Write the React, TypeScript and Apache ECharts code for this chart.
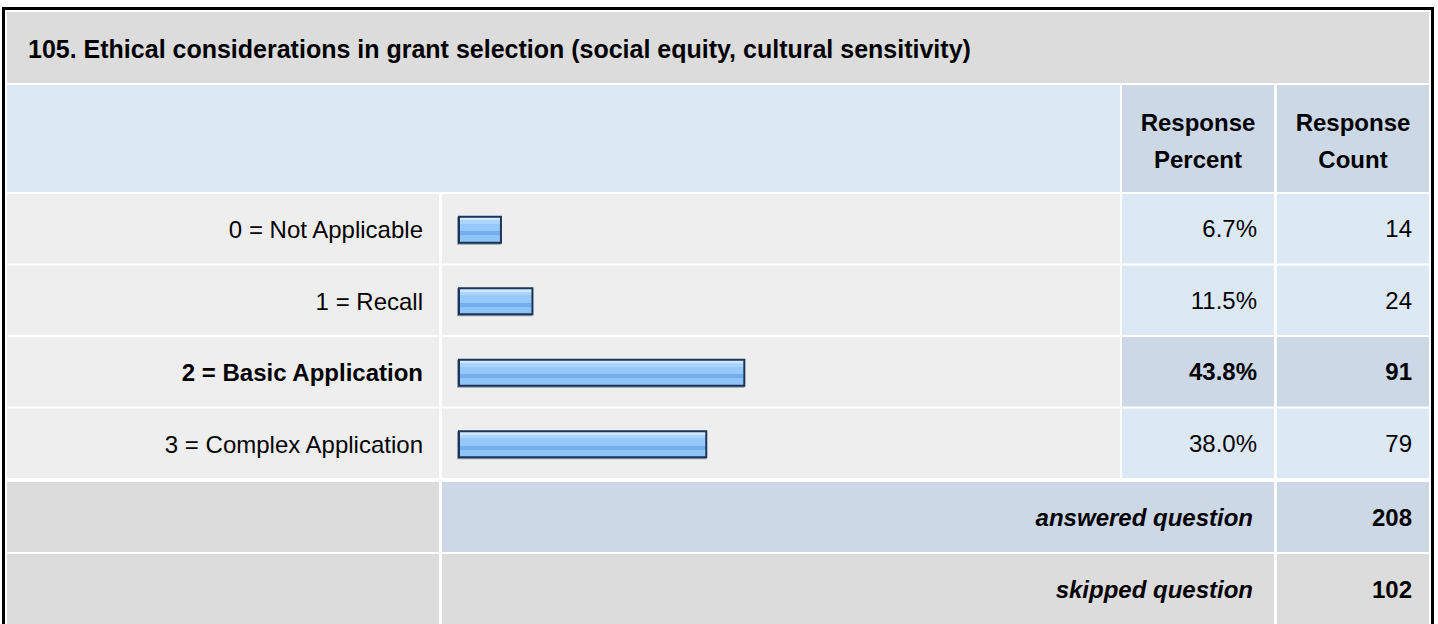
import React, { useEffect, useRef } from 'react';
import * as echarts from 'echarts';

// ---- data ----
const title = '105. Ethical considerations in grant selection (social equity, cultural sensitivity)';
const categories = ['0 = Not Applicable', '1 = Recall', '2 = Basic Application', '3 = Complex Application'];
const percents = [6.7, 11.5, 43.8, 38.0];
const counts = [14, 24, 91, 79];
const headerPercent = ['Response', 'Percent'];
const headerCount = ['Response', 'Count'];
const answeredLabel = 'answered question';
const skippedLabel = 'skipped question';
const answeredCount = 208;
const skippedCount = 102;

// ---- layout / style ----
const FAM = '"Liberation Sans", Arial, Helvetica, sans-serif';
const FS = 24;
const GREY = '#dcdcdc';
const LIGHT = '#eeeeee';
const BLUE = '#dde8f5';
const BLUE2 = '#ccd8e5';

const COL_LAB: [number, number] = [7, 439];
const COL_BAR: [number, number] = [442, 1120];
const COL_PCT: [number, number] = [1122, 1274];
const COL_CNT: [number, number] = [1277, 1429];
const TITLE_ROW: [number, number] = [12, 83];
const HEADER_ROW: [number, number] = [85, 192];
const ROW_TOP0 = 194;
const ROW_PITCH = 71.5;
const ROW_H = 69.5;
const ANS_ROW: [number, number] = [482, 552];
const SKIP_ROW: [number, number] = [554, 660];
const PAD = 17;

function rect(x1: number, y1: number, x2: number, y2: number, fill: string) {
  return { type: 'rect', silent: true, z: 0, shape: { x: x1, y: y1, width: x2 - x1, height: y2 - y1 }, style: { fill } };
}

function txt(text: string, x: number, y: number, align: string, font: string) {
  return {
    type: 'text', silent: true, z: 50,
    style: { text, x, y, font, fill: '#000', align, verticalAlign: 'middle', textAlign: align, textVerticalAlign: 'middle' },
  };
}

export default function App() {
  const ref = useRef<HTMLDivElement>(null);
  useEffect(() => {
    const chart = echarts.init(ref.current!, null, { renderer: 'svg' });
    const hi = percents.indexOf(Math.max(...percents));
    const regular = `${FS}px ${FAM}`;
    const bold = `bold ${FS}px ${FAM}`;
    const boldItalic = `italic bold ${FS}px ${FAM}`;

    const g: any[] = [];
    // title
    g.push(rect(COL_LAB[0], TITLE_ROW[0], COL_CNT[1], TITLE_ROW[1], GREY));
    g.push(txt(title, 28, (TITLE_ROW[0] + TITLE_ROW[1]) / 2 + 1, 'left', `bold 25px ${FAM}`));
    // header
    g.push(rect(COL_LAB[0], HEADER_ROW[0], COL_BAR[1], HEADER_ROW[1], BLUE));
    g.push(rect(COL_PCT[0], HEADER_ROW[0], COL_PCT[1], HEADER_ROW[1], BLUE2));
    g.push(rect(COL_CNT[0], HEADER_ROW[0], COL_CNT[1], HEADER_ROW[1], BLUE2));
    const pc = (COL_PCT[0] + COL_PCT[1]) / 2;
    const cc = (COL_CNT[0] + COL_CNT[1]) / 2;
    g.push(txt(headerPercent[0], pc, 122.5, 'center', bold));
    g.push(txt(headerPercent[1], pc, 159.5, 'center', bold));
    g.push(txt(headerCount[0], cc, 122.5, 'center', bold));
    g.push(txt(headerCount[1], cc, 159.5, 'center', bold));
    // rows
    categories.forEach((_, i) => {
      const t = ROW_TOP0 + i * ROW_PITCH;
      const b = t + ROW_H;
      const mid = t + ROW_H / 2;
      const isHi = i === hi;
      g.push(rect(COL_LAB[0], t, COL_LAB[1], b, LIGHT));
      g.push(rect(COL_BAR[0], t, COL_BAR[1], b, LIGHT));
      g.push(rect(COL_PCT[0], t, COL_PCT[1], b, isHi ? BLUE2 : BLUE));
      g.push(rect(COL_CNT[0], t, COL_CNT[1], b, isHi ? BLUE2 : BLUE));
      g.push(txt(percents[i].toFixed(1) + '%', COL_PCT[1] - PAD, mid, 'right', isHi ? bold : regular));
      g.push(txt(String(counts[i]), COL_CNT[1] - PAD, mid, 'right', isHi ? bold : regular));
    });
    // answered
    g.push(rect(COL_LAB[0], ANS_ROW[0], COL_LAB[1], ANS_ROW[1], GREY));
    g.push(rect(COL_BAR[0], ANS_ROW[0], COL_PCT[1], ANS_ROW[1], BLUE2));
    g.push(rect(COL_CNT[0], ANS_ROW[0], COL_CNT[1], ANS_ROW[1], BLUE2));
    const am = (ANS_ROW[0] + ANS_ROW[1]) / 2;
    g.push(txt(answeredLabel, COL_PCT[1] - 21, am, 'right', boldItalic));
    g.push(txt(String(answeredCount), COL_CNT[1] - PAD, am, 'right', bold));
    // skipped
    g.push(rect(COL_LAB[0], SKIP_ROW[0], COL_LAB[1], SKIP_ROW[1], GREY));
    g.push(rect(COL_BAR[0], SKIP_ROW[0], COL_PCT[1], SKIP_ROW[1], GREY));
    g.push(rect(COL_CNT[0], SKIP_ROW[0], COL_CNT[1], SKIP_ROW[1], GREY));
    const sm = 589;
    g.push(txt(skippedLabel, COL_PCT[1] - 21, sm, 'right', boldItalic));
    g.push(txt(String(skippedCount), COL_CNT[1] - PAD, sm, 'right', bold));
    // outer border
    g.push({ type: 'rect', silent: true, z: 60, shape: { x: 3.5, y: 8.5, width: 1429, height: 700 }, style: { fill: 'none', stroke: '#000', lineWidth: 3 } });

    const barGrad = new echarts.graphic.LinearGradient(0, 0, 0, 1, [
      { offset: 0, color: '#cfe7ff' },
      { offset: 0.13, color: '#cfe7ff' },
      { offset: 0.13, color: '#acd5fd' },
      { offset: 0.27, color: '#acd5fd' },
      { offset: 0.27, color: '#95c9fa' },
      { offset: 0.55, color: '#95c9fa' },
      { offset: 0.55, color: '#75aeee' },
      { offset: 0.72, color: '#75aeee' },
      { offset: 0.72, color: '#8ec4f8' },
      { offset: 1, color: '#8ec4f8' },
    ]);

    const gridTop = ROW_TOP0;
    const gridH = ROW_PITCH * 4;

    chart.setOption({
      animation: false,
      backgroundColor: '#ffffff',
      graphic: { elements: g },
      grid: { left: 458, top: gridTop, width: 656, height: gridH, containLabel: false },
      xAxis: { type: 'value', min: 0, max: 100, show: false },
      yAxis: {
        type: 'category',
        data: categories,
        inverse: true,
        z: 10,
        axisLine: { show: false },
        axisTick: { show: false },
        splitLine: { show: false },
        axisLabel: {
          margin: 35,
          fontSize: FS,
          fontFamily: FAM,
          color: '#000',
          formatter: (v: string, i: number) => (i === hi ? `{b|${v}}` : v),
          rich: { b: { fontSize: FS, fontFamily: FAM, fontWeight: 'bold', color: '#000' } },
        },
      },
      series: [
        {
          type: 'bar',
          data: percents,
          barWidth: 28,
          z: 5,
          itemStyle: {
            color: barGrad,
            borderColor: '#1d3557',
            borderWidth: 2,
            shadowColor: 'rgba(40,60,100,0.45)',
            shadowOffsetY: 1,
            shadowOffsetX: -1,
            shadowBlur: 0,
          },
        },
      ],
    });
    return () => chart.dispose();
  }, []);
  return (
    <div
      ref={ref}
      style={{ position: 'absolute', left: 0, top: 0, width: 1438, height: 624, background: '#fff' }}
    />
  );
}
